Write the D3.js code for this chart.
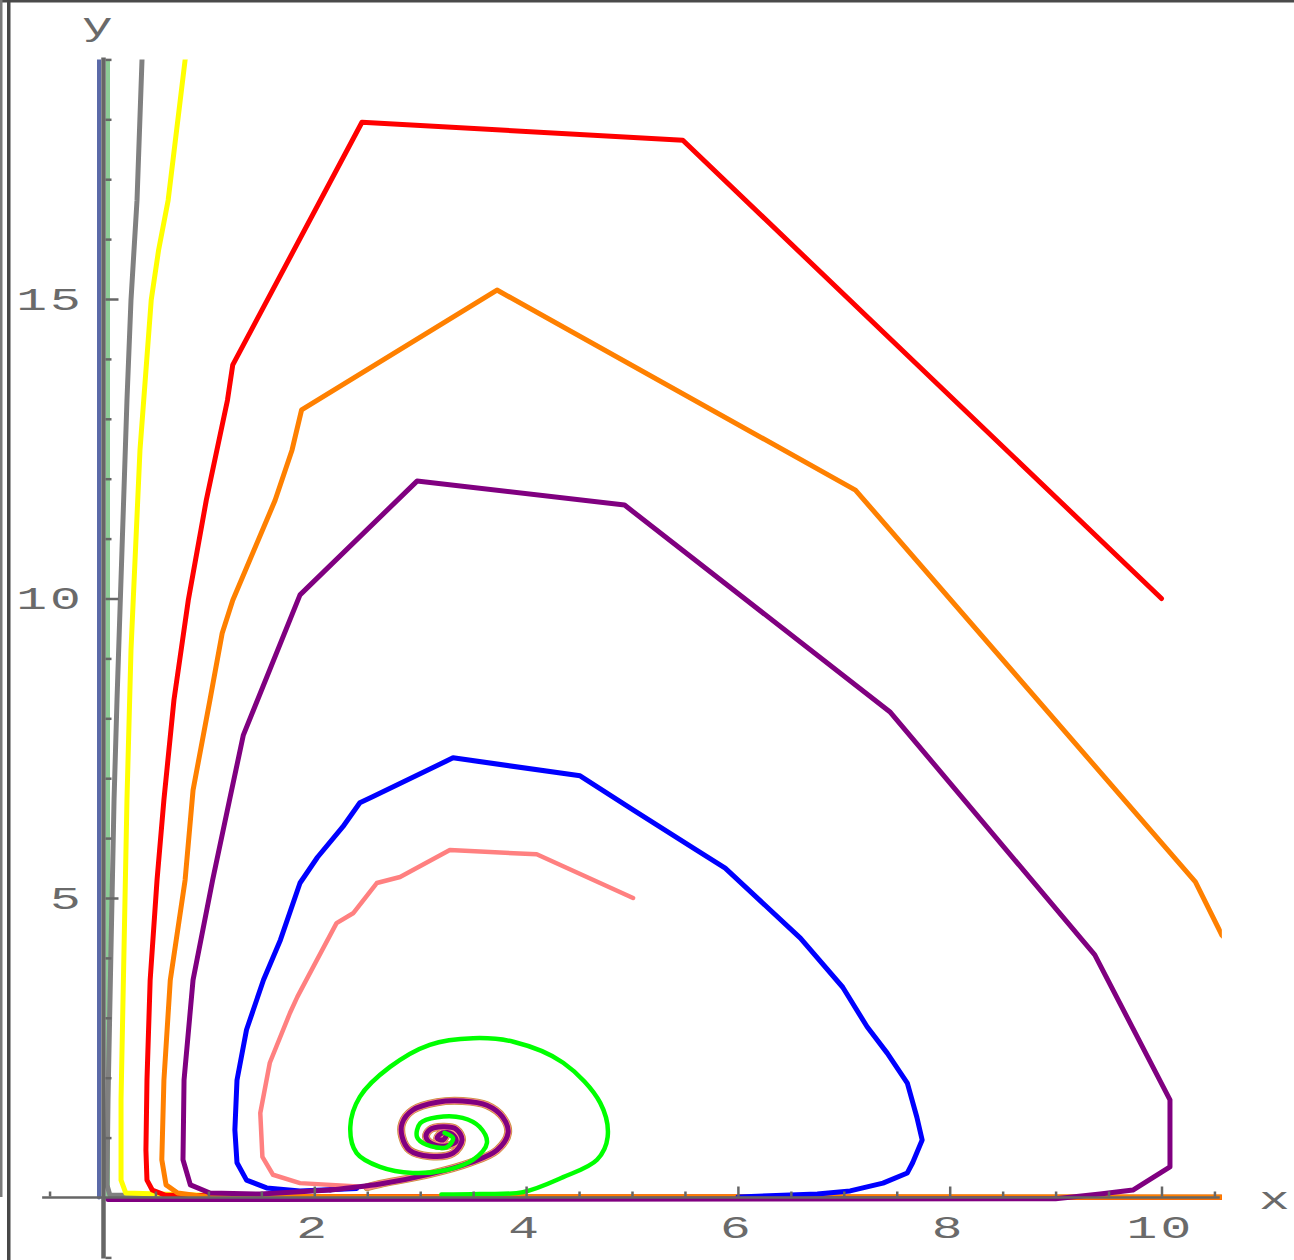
<!DOCTYPE html>
<html><head><meta charset="utf-8">
<script src="https://cdn.jsdelivr.net/npm/d3@7"></script>
<style>html,body{margin:0;padding:0;background:#fff;} svg{display:block}</style>
</head><body>
<svg id="chart" width="1294" height="1260"></svg>
<script>
// ---------- data (x = prey, y = predator) ----------
const xMajorTicks = [2, 4, 6, 8, 10];
const xMajorLabels = ["2", "4", "6", "8", "10"];
const xMinorTicks = [-0.5, 0.5, 1, 1.5, 2.5, 3, 3.5, 4.5, 5, 5.5, 6.5, 7, 7.5, 8.5, 9, 9.5, 10.5];
const yMajorTicks = [5, 10, 15];
const yMajorLabels = ["5", "10", "15"];
const yMinorTicks = [-1, 1, 2, 3, 4, 6, 7, 8, 9, 11, 12, 13, 14, 16, 17, 18, 19];
const axisLabels = ["x", "y"];

const slateLine = [[-0.033, 0], [-0.033, 19.2]];
const mintLine = [[0.052, 0], [0.052, 19.2]];

const grayPath = [[0.375, 19.2], [0.373, 18.99], [0.326, 16.65], [0.269, 14.98], [0.231, 13.31], [0.184, 10.81],
  [0.137, 8.31], [0.109, 6.64], [0.080, 4.13], [0.052, 1.63], [0.042, 0.21], [0.07, 0.04], [2, 0.01], [10.7, 0.005]];

const yellowPath = [[0.80, 19.2], [0.78, 18.99], [0.62, 16.65], [0.53, 15.82], [0.46, 14.98], [0.354, 12.48],
  [0.269, 9.14], [0.231, 6.64], [0.203, 4.13], [0.175, 1.63], [0.175, 0.29], [0.22, 0.075], [1.5, 0.01], [10.7, 0.005]];

const redPath = [[10, 10], [5.48, 17.65], [2.45, 17.95], [1.23, 13.90], [1.18, 13.31], [0.98, 11.64], [0.81, 9.97],
  [0.675, 8.31], [0.58, 6.64], [0.515, 5.30], [0.45, 3.63], [0.42, 1.96], [0.41, 0.79], [0.42, 0.29], [0.47, 0.125],
  [0.59, 0.04], [1.5, 0.015], [4, 0.008], [10.7, 0.003]];

const orangePath = [[10.62, 4.30], [10.57, 4.38], [10.32, 5.27], [7.11, 11.81], [3.725, 15.15], [1.88, 13.15],
  [1.79, 12.48], [1.63, 11.64], [1.23, 9.97], [1.13, 9.42], [1.015, 8.31], [0.855, 6.80], [0.78, 5.30],
  [0.64, 3.63], [0.58, 1.96], [0.56, 0.63], [0.60, 0.21], [0.71, 0.075], [0.92, 0.025], [3, 0.01], [10.7, 0.005]];

const bluePath = [[6.0, 0.01], [6.75, 0.06], [7.06, 0.11], [7.37, 0.24], [7.60, 0.41], [7.65, 0.58], [7.74, 0.96],
  [7.69, 1.34], [7.60, 1.91], [7.41, 2.41], [7.22, 2.85], [6.99, 3.51], [6.59, 4.33], [5.88, 5.50], [5.61, 5.80],
  [5.01, 6.47], [4.51, 7.04], [3.31, 7.34], [2.55, 6.69], [2.43, 6.59], [2.27, 6.19], [2.03, 5.68], [1.865, 5.25],
  [1.68, 4.30], [1.52, 3.63], [1.36, 2.80], [1.27, 1.96], [1.25, 1.13], [1.27, 0.58], [1.36, 0.29], [1.55, 0.16],
  [1.865, 0.11], [2.4, 0.15]];

const pinkPath = [[5.01, 5.0], [4.10, 5.73], [3.28, 5.80], [2.81, 5.35], [2.59, 5.25], [2.37, 4.75], [2.21, 4.58],
  [1.99, 3.85], [1.84, 3.35], [1.77, 3.08], [1.58, 2.25], [1.49, 1.41], [1.51, 0.68], [1.61, 0.38], [1.865, 0.24],
  [2.50, 0.175]];

const purplePath = [[0.05, -0.035], [9.0, -0.02], [9.42, 0.058], [9.73, 0.125], [10.08, 0.51], [10.08, 1.63],
  [9.37, 4.05], [7.44, 8.10], [4.93, 11.56], [2.97, 11.96], [1.865, 10.06], [1.33, 7.72], [1.20, 6.64], [1.04, 5.30],
  [0.855, 3.63], [0.77, 1.96], [0.76, 0.63], [0.83, 0.21], [1.015, 0.075], [1.49, 0.058], [2.15, 0.125]];

const spiralCore = [[2.50, 0.175], [2.62, 0.225], [3.09, 0.39], [3.47, 0.58], [3.725, 0.79], [3.83, 1.08], [3.78, 1.34],
  [3.63, 1.54], [3.40, 1.61], [3.16, 1.59], [2.93, 1.46], [2.83, 1.24], [2.83, 1.01], [2.90, 0.79], [3.09, 0.69],
  [3.31, 0.74], [3.395, 0.96], [3.34, 1.14], [3.215, 1.18], [3.09, 1.13], [3.055, 1.01], [3.12, 0.89], [3.24, 0.86],
  [3.34, 0.94], [3.30, 1.06], [3.21, 1.08], [3.16, 0.99], [3.215, 0.96], [3.24, 1.01]];

const greenPath = [[3.2, 0.05], [3.56, 0.058], [3.97, 0.09], [4.35, 0.34], [4.67, 0.63], [4.77, 1.01], [4.70, 1.58],
  [4.35, 2.25], [3.88, 2.60], [3.50, 2.66], [3.09, 2.55], [2.715, 2.18], [2.43, 1.68], [2.34, 1.18], [2.40, 0.74],
  [2.62, 0.51], [2.93, 0.41], [3.25, 0.46], [3.50, 0.63], [3.63, 0.91], [3.56, 1.18], [3.40, 1.33], [3.16, 1.34],
  [3.00, 1.24], [2.97, 1.01], [3.06, 0.88], [3.25, 0.84], [3.31, 0.99], [3.23, 1.08]];

// ---------- drawing ----------
const svg = d3.select('#chart');
const x = d3.scaleLinear().domain([0, 10]).range([102.5, 1161.5]);
const y = d3.scaleLinear().domain([0, 15]).range([1197.5, 299]);
const polyline = d3.line().x(d => x(d[0])).y(d => y(d[1])).curve(d3.curveLinear);
const smooth = d3.line().x(d => x(d[0])).y(d => y(d[1])).curve(d3.curveCatmullRom.alpha(0.5));

// frame of the screenshot
svg.append('rect').attr('x', 0).attr('y', 0).attr('width', 1294).attr('height', 2.5).attr('fill', '#4a4a4a');
svg.append('rect').attr('x', 0).attr('y', 0).attr('width', 2.5).attr('height', 1197).attr('fill', '#7a7a7a');
svg.append('rect').attr('x', 7).attr('y', 0).attr('width', 3.5).attr('height', 1260).attr('fill', '#474747');

svg.append('defs').append('clipPath').attr('id', 'plotclip').append('rect')
  .attr('x', x(-0.57)).attr('y', y(19))
  .attr('width', x(10.57) - x(-0.57)).attr('height', y(-1.05) - y(19));

const plot = svg.append('g').attr('clip-path', 'url(#plotclip)');

function draw(data, color, width, gen) {
  plot.append('path').attr('d', (gen || polyline)(data)).attr('fill', 'none')
    .attr('stroke', color).attr('stroke-width', width)
    .attr('stroke-linejoin', 'round').attr('stroke-linecap', 'round');
}

draw(slateLine, '#5b6aa8', 4);
draw(mintLine, '#8ccc96', 4);
draw(grayPath, '#808080', 5);
draw(yellowPath, '#ffff00', 5);
draw(redPath, '#ff0000', 5);
draw(orangePath, '#ff8000', 5);
draw(bluePath, '#0000ff', 5);
draw(spiralCore, '#c8903c', 8, smooth);
draw(spiralCore, '#ff8a8a', 6.5, smooth);
draw(pinkPath, '#ff8080', 4.5);
draw(purplePath, '#800080', 5);
draw([purplePath[purplePath.length - 1]].concat(spiralCore.slice(1)), '#800080', 5, smooth);
draw(greenPath, '#00ff00', 4.5, smooth);

// axes
const axisColor = '#666666';
const ax = svg.append('g');
ax.append('line').attr('x1', x(-0.57)).attr('x2', x(10.55)).attr('y1', y(0)).attr('y2', y(0))
  .attr('stroke', axisColor).attr('stroke-width', 2.5);
ax.append('line').attr('x1', x(0) + 1).attr('x2', x(0) + 1).attr('y1', y(19.03)).attr('y2', y(-1.02))
  .attr('stroke', axisColor).attr('stroke-width', 4.5);

const xMinorAxis = d3.axisBottom(x).tickValues(xMinorTicks).tickSizeInner(-5).tickSizeOuter(0).tickFormat('');
const xMajorAxis = d3.axisBottom(x).tickValues(xMajorTicks).tickSizeInner(-10).tickSizeOuter(0).tickFormat('');
const yMinorAxis = d3.axisLeft(y).tickValues(yMinorTicks).tickSizeInner(-6).tickSizeOuter(0).tickFormat('');
const yMajorAxis = d3.axisLeft(y).tickValues(yMajorTicks).tickSizeInner(-13).tickSizeOuter(0).tickFormat('');

[[xMinorAxis, `translate(0,${y(0) - 1})`], [xMajorAxis, `translate(0,${y(0) - 1})`],
 [yMinorAxis, `translate(${x(0) + 3},0)`], [yMajorAxis, `translate(${x(0) + 3},0)`]].forEach(([a, t]) => {
  const g = svg.append('g').attr('transform', t).call(a);
  g.select('.domain').remove();
  g.selectAll('.tick line').attr('stroke', axisColor).attr('stroke-width', 2.5);
});

const font = '"Liberation Mono", "DejaVu Sans Mono", monospace';
function label(txt, tx, ty, anchor) {
  svg.append('text').text(txt)
    .attr('transform', `translate(${tx},${ty}) scale(1.6,1)`)
    .attr('text-anchor', anchor)
    .attr('font-family', font).attr('font-size', 32)
    .attr('letter-spacing', '2px')
    .attr('fill', '#6a6a6a');
}
xMajorTicks.forEach((v, i) => label(xMajorLabels[i], x(v) - 1, 1237.5, 'middle'));
yMajorTicks.forEach((v, i) => label(yMajorLabels[i], 84, y(v) + 10.5, 'end'));
label(axisLabels[0], 1276, 1209, 'middle');
label(axisLabels[1], 99, 35, 'middle');
</script>
</body></html>
